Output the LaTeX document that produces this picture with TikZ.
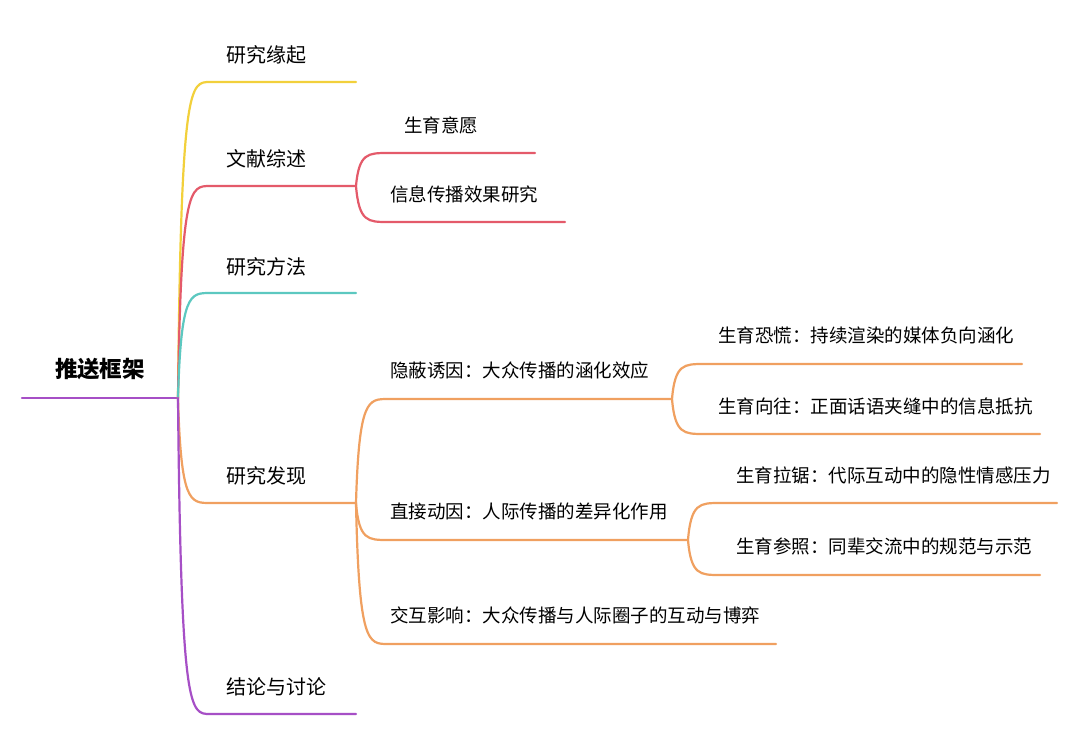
\documentclass[tikz,border=0pt]{standalone}
\usepackage{fontspec}
\setmainfont{Noto Sans CJK SC}
\definecolor{cyel}{HTML}{F2D03B}
\definecolor{cred}{HTML}{E45A6A}
\definecolor{cteal}{HTML}{5CC8C0}
\definecolor{corg}{HTML}{F0A060}
\definecolor{cpur}{HTML}{A64FC6}
\tikzset{
  lab/.style={anchor=west, inner sep=0pt, font=\fontsize{18.5}{20}\selectfont},
  toplab/.style={lab, font=\fontsize{20}{22}\selectfont},
  br/.style={line width=2.2pt, line cap=round}
}
% curved branch from (#1) to the start of a line at (#2), line to (#3)
\newcommand{\branch}[4]{\draw[br,#4] (#1) .. controls ($(#1|-#2)+(3,0)$) and ($(#1|-#2)+(12,0)$) .. (#2) -- (#3);}
\usetikzlibrary{calc}
\begin{document}
\begin{tikzpicture}[x=1pt,y=-1pt]
  \useasboundingbox[fill=white] (0,0) rectangle (1080,739);
  % root
  \node[anchor=center, inner sep=0pt, font=\fontsize{22.5}{24}\selectfont\bfseries] (root) at (100,369) {推送框架};
  \coordinate (r0) at (22,398);
  \coordinate (r1) at (178,398);
  \draw[br, cpur] (r0) -- (r1);
  % first level
  \node[toplab] (yq) at (226,55) {研究缘起};
  \node[toplab] (wx) at (226,159) {文献综述};
  \node[toplab] (ff) at (226,267) {研究方法};
  \node[toplab] (fx) at (226,476) {研究发现};
  \node[toplab] (jl) at (226,687) {结论与讨论};
  \coordinate (yq0) at (210,82);  \coordinate (yq1) at (356,82);
  \coordinate (wx0) at (210,186); \coordinate (wx1) at (356,186);
  \coordinate (ff0) at (210,293); \coordinate (ff1) at (356,293);
  \coordinate (fx0) at (210,503); \coordinate (fx1) at (356,503);
  \coordinate (jl0) at (210,714); \coordinate (jl1) at (356,714);
  \branch{r1}{yq0}{yq1}{cyel}
  \branch{r1}{wx0}{wx1}{cred}
  \branch{r1}{ff0}{ff1}{cteal}
  \branch{r1}{fx0}{fx1}{corg}
  \branch{r1}{jl0}{jl1}{cpur}
  % literature review
  \node[lab] (yy) at (404,125) {生育意愿};
  \node[lab] (xx) at (390,194) {信息传播效果研究};
  \coordinate (yy0) at (388,153); \coordinate (yy1) at (535,153);
  \coordinate (xx0) at (388,222); \coordinate (xx1) at (565,222);
  \branch{wx1}{yy0}{yy1}{cred}
  \branch{wx1}{xx0}{xx1}{cred}
  % findings
  \node[lab] (yb) at (390,370) {隐蔽诱因：大众传播的涵化效应};
  \node[lab] (zj) at (390,511) {直接动因：人际传播的差异化作用};
  \node[lab] (jh) at (390,615) {交互影响：大众传播与人际圈子的互动与博弈};
  \coordinate (yb0) at (388,399); \coordinate (yb1) at (672,399);
  \coordinate (zj0) at (388,540); \coordinate (zj1) at (688,540);
  \coordinate (jh0) at (388,644); \coordinate (jh1) at (776,644);
  \branch{fx1}{yb0}{yb1}{corg}
  \branch{fx1}{zj0}{zj1}{corg}
  \branch{fx1}{jh0}{jh1}{corg}
  % third level
  \node[lab] (kh) at (718,335) {生育恐慌：持续渲染的媒体负向涵化};
  \node[lab] (xw) at (718,406) {生育向往：正面话语夹缝中的信息抵抗};
  \node[lab] (lj) at (736,475) {生育拉锯：代际互动中的隐性情感压力};
  \node[lab] (cz) at (736,546) {生育参照：同辈交流中的规范与示范};
  \coordinate (kh0) at (704,364); \coordinate (kh1) at (1022,364);
  \coordinate (xw0) at (704,434); \coordinate (xw1) at (1040,434);
  \coordinate (lj0) at (720,503); \coordinate (lj1) at (1057,503);
  \coordinate (cz0) at (720,575); \coordinate (cz1) at (1040,575);
  \branch{yb1}{kh0}{kh1}{corg}
  \branch{yb1}{xw0}{xw1}{corg}
  \branch{zj1}{lj0}{lj1}{corg}
  \branch{zj1}{cz0}{cz1}{corg}
\end{tikzpicture}
\end{document}
